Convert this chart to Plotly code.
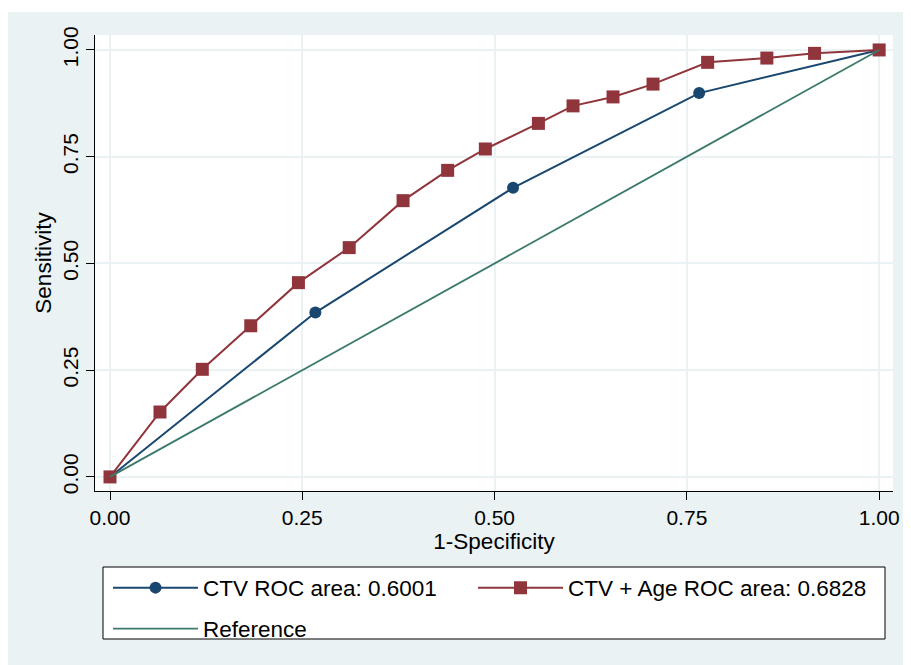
import plotly.graph_objects as go

# ---- data ----
fpr_ctv = [0.0, 0.267, 0.524, 0.766, 1.0]
tpr_ctv = [0.0, 0.385, 0.677, 0.899, 1.0]

fpr_age = [0.0, 0.065, 0.120, 0.183, 0.245, 0.311, 0.381, 0.439, 0.488,
           0.557, 0.602, 0.654, 0.706, 0.777, 0.854, 0.916, 1.0]
tpr_age = [0.0, 0.152, 0.252, 0.354, 0.455, 0.537, 0.647, 0.718, 0.768,
           0.828, 0.869, 0.890, 0.920, 0.971, 0.981, 0.992, 1.0]

ref_x = [0.0, 1.0]
ref_y = [0.0, 1.0]

tick_vals = [0.0, 0.25, 0.5, 0.75, 1.0]
tick_text = ["0.00", "0.25", "0.50", "0.75", "1.00"]

names = ["CTV ROC area: 0.6001", "CTV + Age ROC area: 0.6828", "Reference"]

BLUE = "#1a476f"
RED = "#90353b"
GREEN = "#3d7a6e"
BG = "#eaf2f3"
FONT = "Liberation Sans, Arial, Helvetica, sans-serif"

# page body has an 8px margin, so the figure fills the rest of the window
W, H = 903, 657
L, R, T, B = 87, 18, 27, 174
PW, PH = W - L - R, H - T - B


def px(x):
    return (x - L) / PW


def py(y):
    return (H - B - y) / PH


fig = go.Figure()
fig.add_trace(go.Scatter(
    x=fpr_ctv, y=tpr_ctv, mode="lines+markers", name=names[0],
    line=dict(color=BLUE, width=2),
    marker=dict(symbol="circle", size=12, color=BLUE),
    legend="legend", legendwidth=265,
))
fig.add_trace(go.Scatter(
    x=fpr_age, y=tpr_age, mode="lines+markers", name=names[1],
    line=dict(color=RED, width=2),
    marker=dict(symbol="square", size=13, color=RED),
    legend="legend", legendwidth=310,
))
fig.add_trace(go.Scatter(
    x=ref_x, y=ref_y, mode="lines", name=names[2],
    line=dict(color=GREEN, width=1.8),
    legend="legend2",
))

axis_common = dict(
    tickvals=tick_vals, ticktext=tick_text,
    showgrid=True, gridcolor=BG, gridwidth=1.5,
    zeroline=False,
    showline=True, linecolor="black", linewidth=1,
    ticks="outside", ticklen=8, tickcolor="black", tickwidth=1,
    tickfont=dict(family=FONT, size=21, color="black"),
)

fig.update_layout(
    width=W, height=H,
    margin=dict(l=L, r=R, t=T, b=B, autoexpand=False),
    paper_bgcolor=BG, plot_bgcolor="white",
    font=dict(family=FONT, size=21, color="black"),
    xaxis=dict(range=[-0.0195, 1.018],
               title=dict(text="1-Specificity", standoff=0,
                          font=dict(family=FONT, size=22.5, color="black")),
               **axis_common),
    yaxis=dict(range=[-0.033, 1.035], tickangle=-90,
               title=dict(text="Sensitivity", standoff=0,
                          font=dict(family=FONT, size=22.5, color="black")),
               **axis_common),
    legend=dict(
        orientation="h", x=px(100), y=py(580), xanchor="left", yanchor="middle",
        bgcolor="rgba(0,0,0,0)", borderwidth=0, itemwidth=85,
        font=dict(family=FONT, size=22.5, color="black"),
    ),
    legend2=dict(
        orientation="h", x=px(100), y=py(621), xanchor="left", yanchor="middle",
        bgcolor="rgba(0,0,0,0)", borderwidth=0, itemwidth=85,
        font=dict(family=FONT, size=22.5, color="black"),
    ),
    shapes=[
        # thin white band at the very top of the image
        dict(type="rect", xref="paper", yref="paper", x0=-0.2, x1=1.2,
             y0=py(4), y1=1.2, fillcolor="white", line=dict(width=0), layer="below"),
        # legend box
        dict(type="rect", xref="paper", yref="paper", x0=px(95), x1=px(877),
             y0=py(631), y1=py(559), fillcolor="white",
             line=dict(color="black", width=1), layer="below"),
    ],
    showlegend=True,
)

fig.write_html("out.html")
